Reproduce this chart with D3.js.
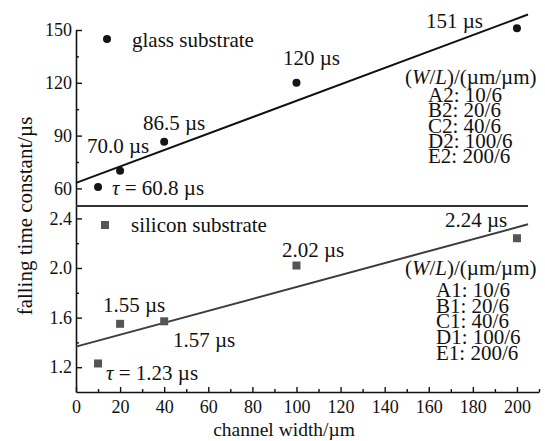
<!DOCTYPE html>
<html>
<head>
<meta charset="utf-8">
<script src="https://cdn.jsdelivr.net/npm/d3@7"></script>
<style>
  body { margin: 0; background: #fff; }
</style>
</head>
<body>
<svg id="chart" width="545" height="441" font-family="'Liberation Serif', 'Times New Roman', 'DejaVu Serif', serif"></svg>
<script>
// channel widths (um)
const widths = [10, 20, 40, 100, 200];
// falling time constants
const glassTau = [60.8, 70.0, 86.5, 120, 151];     // us
const siliconTau = [1.23, 1.55, 1.57, 2.02, 2.24]; // us
const glassLabels = ["\u03c4 = 60.8 \u00b5s", "70.0 \u00b5s", "86.5 \u00b5s", "120 \u00b5s", "151 \u00b5s"];
const siliconLabels = ["\u03c4 = 1.23 \u00b5s", "1.55 \u00b5s", "1.57 \u00b5s", "2.02 \u00b5s", "2.24 \u00b5s"];
const glassDevices = ["A2: 10/6", "B2: 20/6", "C2: 40/6", "D2: 100/6", "E2: 200/6"];
const siliconDevices = ["A1: 10/6", "B1: 20/6", "C1: 40/6", "D1: 100/6", "E1: 200/6"];
const xTicks = [0, 20, 40, 60, 80, 100, 120, 140, 160, 180, 200];
const topTicks = [60, 90, 120, 150];
const botTicks = [1.2, 1.6, 2.0, 2.4];

const FONT = "'Liberation Serif', 'Times New Roman', 'DejaVu Serif', serif";
const svg = d3.select("#chart");

const x = d3.scaleLinear().domain([0, 210]).range([76, 539]);
const yTop = d3.scaleLinear().domain([50, 150]).range([206, 30]);
const yBot = d3.scaleLinear().domain([1.0, 2.5]).range([392, 206]);

// least squares fit
function fit(xs, ys) {
  const mx = d3.mean(xs), my = d3.mean(ys);
  let sxy = 0, sxx = 0;
  xs.forEach((v, i) => { sxy += (v - mx) * (ys[i] - my); sxx += (v - mx) * (v - mx); });
  const k = sxy / sxx;
  return { k: k, b: my - k * mx };
}

function styleAxis(g, size) {
  g.attr("font-family", FONT).attr("font-size", size);
  g.selectAll("text").attr("font-family", FONT).attr("font-size", size).attr("fill", "#111");
  g.selectAll("line").attr("stroke", "#111").attr("stroke-width", 1.4);
  g.select(".domain").attr("stroke", "#111").attr("stroke-width", 1.6);
}

// y axes (ticks point inward)
const gTop = svg.append("g").attr("transform", "translate(76,0)")
  .call(d3.axisLeft(yTop).tickValues(topTicks).tickSizeInner(-6).tickSizeOuter(0).tickPadding(4));
styleAxis(gTop, 18);
svg.append("g").attr("transform", "translate(76,0)")
  .call(d3.axisLeft(yTop).tickValues([75, 105, 135]).tickSizeInner(-3).tickSizeOuter(0).tickFormat(""))
  .call(g => { g.select(".domain").remove(); styleAxis(g, 18); });

const gBot = svg.append("g").attr("transform", "translate(76,0)")
  .call(d3.axisLeft(yBot).tickValues(botTicks).tickSizeInner(-6).tickSizeOuter(0).tickPadding(4).tickFormat(d3.format(".1f")));
styleAxis(gBot, 18);
svg.append("g").attr("transform", "translate(76,0)")
  .call(d3.axisLeft(yBot).tickValues([1.4, 1.8, 2.2]).tickSizeInner(-3).tickSizeOuter(0).tickFormat(""))
  .call(g => { g.select(".domain").remove(); styleAxis(g, 18); });

// x axis
const gx = svg.append("g").attr("transform", "translate(0,392)")
  .call(d3.axisBottom(x).tickValues(xTicks).tickSizeInner(-5).tickSizeOuter(0).tickPadding(8));
styleAxis(gx, 18);
svg.append("g").attr("transform", "translate(0,392)")
  .call(d3.axisBottom(x).tickValues(d3.range(10, 211, 20)).tickSizeInner(-3).tickSizeOuter(0).tickFormat(""))
  .call(g => { g.select(".domain").remove(); styleAxis(g, 18); });

// divider between the two panels
svg.append("line")
  .attr("x1", x(0)).attr("x2", x(205))
  .attr("y1", yTop(50)).attr("y2", yTop(50))
  .attr("stroke", "#333").attr("stroke-width", 2);

// fit lines
const fg = fit(widths, glassTau);
const fs = fit(widths, siliconTau);
svg.append("line")
  .attr("x1", x(0)).attr("y1", yTop(fg.b))
  .attr("x2", x(205)).attr("y2", yTop(fg.b + fg.k * 205))
  .attr("stroke", "#111").attr("stroke-width", 2);
svg.append("line")
  .attr("x1", x(0)).attr("y1", yBot(fs.b))
  .attr("x2", x(205)).attr("y2", yBot(fs.b + fs.k * 205))
  .attr("stroke", "#3c3c3c").attr("stroke-width", 2);

// points
svg.selectAll(".glass").data(widths).enter().append("circle")
  .attr("class", "glass")
  .attr("cx", d => x(d))
  .attr("cy", (d, i) => yTop(glassTau[i]))
  .attr("r", 4)
  .attr("fill", "#151515");

svg.selectAll(".si").data(widths).enter().append("rect")
  .attr("class", "si")
  .attr("x", d => x(d) - 4)
  .attr("y", (d, i) => yBot(siliconTau[i]) - 4)
  .attr("width", 8).attr("height", 8)
  .attr("fill", "#555");

function txt(px, py, s, size) {
  return svg.append("text").attr("x", px).attr("y", py)
    .attr("font-family", FONT).attr("font-size", size).attr("fill", "#111").text(s);
}

// value labels
const glassPos = [[112, 195], [87, 153], [143, 130], [283, 65], [426, 28]];
const siliconPos = [[106, 380], [103, 312], [173, 347], [282, 257], [445, 227]];
function valueLabel(s, p) {
  const t = txt(p[0], p[1], "", 21);
  if (s.startsWith("\u03c4")) {
    t.append("tspan").attr("font-style", "italic").text("\u03c4");
    t.append("tspan").text(s.slice(1));
  } else t.text(s);
}
glassLabels.forEach((s, i) => valueLabel(s, glassPos[i]));
siliconLabels.forEach((s, i) => valueLabel(s, siliconPos[i]));

// series legends
svg.append("circle").attr("cx", 107).attr("cy", 39).attr("r", 4).attr("fill", "#151515");
txt(132, 47, "glass substrate", 21);
svg.append("rect").attr("x", 101).attr("y", 221).attr("width", 8).attr("height", 8).attr("fill", "#555");
txt(131, 232, "silicon substrate", 21);

// W/L tables
function wl(px, py) {
  const t = txt(px, py, "", 21);
  t.append("tspan").text("(");
  t.append("tspan").attr("font-style", "italic").text("W");
  t.append("tspan").text("/");
  t.append("tspan").attr("font-style", "italic").text("L");
  t.append("tspan").text(")/(\u00b5m/\u00b5m)");
}
wl(405, 84);
glassDevices.forEach((s, i) => txt(428, 102 + i * 15.3, s, 21));
wl(405, 275);
siliconDevices.forEach((s, i) => txt(436, 297 + i * 15.7, s, 21));

// axis titles
svg.append("text").attr("x", 284).attr("y", 436).attr("text-anchor", "middle")
  .attr("font-family", FONT).attr("font-size", 19.5).attr("fill", "#111").text("channel width/\u00b5m");
svg.append("text").attr("transform", "translate(32,216) rotate(-90)")
  .attr("text-anchor", "middle").attr("font-family", FONT).attr("font-size", 21).attr("fill", "#111")
  .text("falling time constant/\u00b5s");
</script>
</body>
</html>
